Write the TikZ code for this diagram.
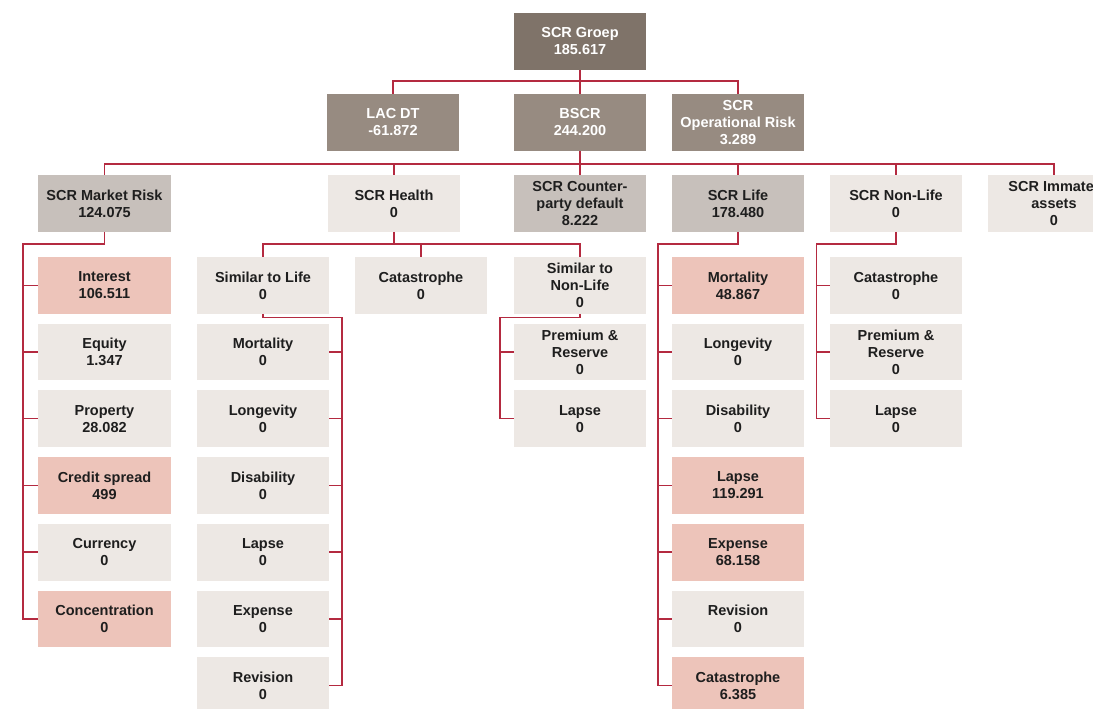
\documentclass[tikz,border=0pt]{standalone}
\usepackage{fontspec}
\setmainfont{Liberation Sans}
\definecolor{cTop}{HTML}{7F7369}
\definecolor{cMid}{HTML}{978B81}
\definecolor{cGrey}{HTML}{C7C0BB}
\definecolor{cLight}{HTML}{EDE8E4}
\definecolor{cPink}{HTML}{EDC4BA}
\definecolor{cLine}{HTML}{B42A40}
\definecolor{cText}{HTML}{1E1E1E}
\tikzset{
  box/.style={minimum width=132.5pt, minimum height=56.7pt, inner sep=0pt, align=center,
    font=\fontsize{14.5}{17}\selectfont\bfseries, text=cText},
  topbox/.style={box, fill=cTop, text=white},
  midbox/.style={box, fill=cMid, text=white},
  greybox/.style={box, fill=cGrey},
  lightbox/.style={box, fill=cLight},
  pinkbox/.style={box, fill=cPink},
  conn/.style={draw=cLine, line width=1.4pt}
}
\begin{document}
\begin{tikzpicture}[x=1pt,y=-1pt]
\useasboundingbox (0,0) rectangle (1093,709);
\clip (0,0) rectangle (1093,709);
% level 1
\node[topbox] (groep) at (580,41.35) {SCR Groep\\185.617};
% level 2
\node[midbox] (lac) at (393,122.35) {LAC DT\\-61.872};
\node[midbox] (bscr) at (580,122.35) {BSCR\\244.200};
\node[midbox] (oprisk) at (738,122.35) {SCR\\Operational Risk\\3.289};
% level 3
\node[greybox] (market) at (104.5,203.35) {SCR Market Risk\\124.075};
\node[lightbox] (health) at (394,203.35) {SCR Health\\0};
\node[greybox] (counter) at (580,203.35) {SCR Counter-\\party default\\8.222};
\node[greybox] (life) at (738,203.35) {SCR Life\\178.480};
\node[lightbox] (nonlife) at (896,203.35) {SCR Non-Life\\0};
\node[lightbox] (immat) at (1054,203.35) {SCR Immater\hspace{18pt}\\assets\\0};
% market risk column
\node[pinkbox] (interest) at (104.5,285.35) {Interest\\106.511};
\node[lightbox] (equity) at (104.5,352.05) {Equity\\1.347};
\node[lightbox] (property) at (104.5,418.75) {Property\\28.082};
\node[pinkbox] (credit) at (104.5,485.45) {Credit spread\\499};
\node[lightbox] (currency) at (104.5,552.15) {Currency\\0};
\node[pinkbox] (conc) at (104.5,618.85) {Concentration\\0};
% health
\node[lightbox] (siml) at (263,285.35) {Similar to Life\\0};
\node[lightbox] (hcat) at (421,285.35) {Catastrophe\\0};
\node[lightbox] (simnl) at (580,285.35) {Similar to\\Non-Life\\0};
\node[lightbox] (hmort) at (263,352.05) {Mortality\\0};
\node[lightbox] (hlong) at (263,418.75) {Longevity\\0};
\node[lightbox] (hdis) at (263,485.45) {Disability\\0};
\node[lightbox] (hlapse) at (263,552.15) {Lapse\\0};
\node[lightbox] (hexp) at (263,618.85) {Expense\\0};
\node[lightbox] (hrev) at (263,685.55) {Revision\\0};
\node[lightbox] (hprem) at (580,352.05) {Premium \&\\Reserve\\0};
\node[lightbox] (hnlapse) at (580,418.75) {Lapse\\0};
% life
\node[pinkbox] (lmort) at (738,285.35) {Mortality\\48.867};
\node[lightbox] (llong) at (738,352.05) {Longevity\\0};
\node[lightbox] (ldis) at (738,418.75) {Disability\\0};
\node[pinkbox] (llapse) at (738,485.45) {Lapse\\119.291};
\node[pinkbox] (lexp) at (738,552.15) {Expense\\68.158};
\node[lightbox] (lrev) at (738,618.85) {Revision\\0};
\node[pinkbox] (lcat) at (738,685.55) {Catastrophe\\6.385};
% non-life
\node[lightbox] (ncat) at (896,285.35) {Catastrophe\\0};
\node[lightbox] (nprem) at (896,352.05) {Premium \&\\Reserve\\0};
\node[lightbox] (nlapse) at (896,418.75) {Lapse\\0};
% connectors
\coordinate (b1) at (580,81);
\draw[conn] (groep.south) -- (bscr.north);
\draw[conn] (lac.north) |- (b1) -| (oprisk.north);
\coordinate (b2) at (580,164);
\draw[conn] (bscr.south) -- (counter.north);
\draw[conn] (market.north) |- (b2) -| (immat.north);
\foreach \n in {health,life,nonlife} \draw[conn] (\n.north) -- (\n.north |- b2);
% market
\coordinate (ms) at (23,244);
\draw[conn] (market.south) |- (ms) -- (ms |- conc.west) -- (conc.west);
\foreach \n in {interest,equity,property,credit,currency} \draw[conn] (ms |- \n.west) -- (\n.west);
% health
\coordinate (hb) at (394,244);
\draw[conn] (health.south) -- (hb);
\draw[conn] (siml.north) |- (hb) -| (simnl.north);
\draw[conn] (hcat.north) -- (hcat.north |- hb);
\coordinate (sls) at (342,317.5);
\draw[conn] (siml.south) |- (sls) -- (sls |- hrev.east) -- (hrev.east);
\foreach \n in {hmort,hlong,hdis,hlapse,hexp} \draw[conn] (sls |- \n.east) -- (\n.east);
\coordinate (snls) at (500,317.5);
\draw[conn] (simnl.south) |- (snls) -- (snls |- hnlapse.west) -- (hnlapse.west);
\draw[conn] (snls |- hprem.west) -- (hprem.west);
% life
\coordinate (ls) at (658,244);
\draw[conn] (life.south) |- (ls) -- (ls |- lcat.west) -- (lcat.west);
\foreach \n in {lmort,llong,ldis,llapse,lexp,lrev} \draw[conn] (ls |- \n.west) -- (\n.west);
% non-life
\coordinate (nls) at (816.5,244);
\draw[conn] (nonlife.south) |- (nls) -- (nls |- nlapse.west) -- (nlapse.west);
\foreach \n in {ncat,nprem} \draw[conn] (nls |- \n.west) -- (\n.west);
\end{tikzpicture}
\end{document}
